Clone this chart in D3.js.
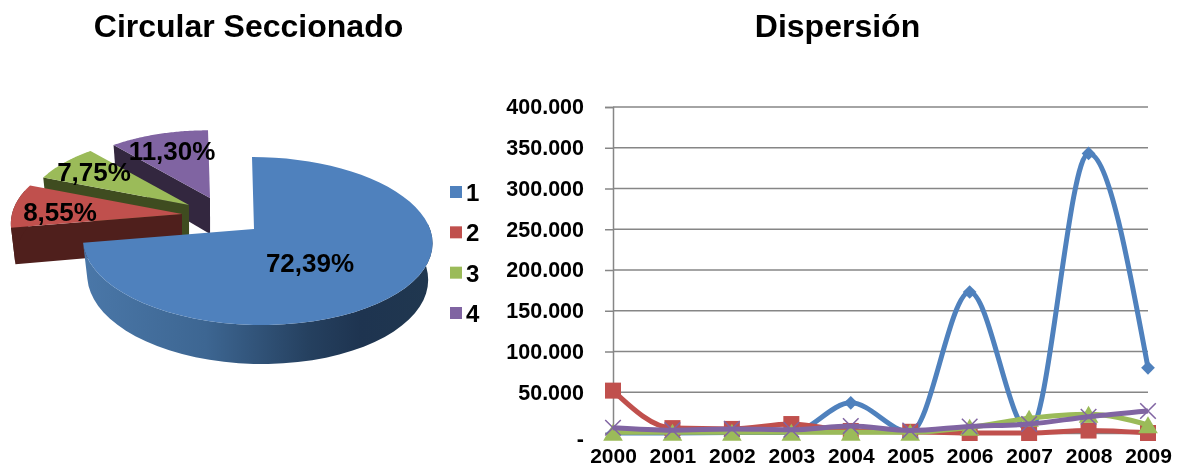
<!DOCTYPE html>
<html><head><meta charset="utf-8">
<script src="https://cdnjs.cloudflare.com/ajax/libs/d3/7.8.5/d3.min.js"></script>
<style>html,body{margin:0;background:#fff}svg{display:block;filter:blur(.45px)}text{font-family:"Liberation Sans",Arial,sans-serif;font-weight:700;fill:#000}</style>
</head><body><svg id="c" width="1184" height="468"></svg>
<script>
const pieLabels=["1","2","3","4"];
const pieValues=[72.39,8.55,7.75,11.30];
const pieText=["72,39%","8,55%","7,75%","11,30%"];
const years=["2000","2001","2002","2003","2004","2005","2006","2007","2008","2009"];
const serie1=[0,0,500,500,37000,1000,173000,2000,343000,80000];
const serie2=[52000,6000,5000,11000,2500,1500,0,0,3000,0];
const serie3=[1000,1000,1000,1000,1000,1000,7000,18000,23000,10000];
const serie4=[6500,3500,5000,4000,8500,3000,8000,11000,20000,27000];
const yTicks=[0,50000,100000,150000,200000,250000,300000,350000,400000];
const colors=["#4f81bd","#c0504d","#9bbb59","#8064a2"];
const dark=["#1f3550","#4f1f1c","#3f4c20","#33273f"];

const svg=d3.select("#c");
const title=(t,x)=>svg.append("text").attr("x",x).attr("y",37).attr("text-anchor","middle").attr("font-size",32).text(t);
title("Circular Seccionado",248.5);title("Dispersión",837.5);

// ---------- exploded 3D pie ----------
const P={x0:257,y0:229,a:82.3,b:173,k:1/7,c:-5,depth:36,shrink:.975};
const explode=[[0,0],[-72,-15],[-65,-24],[-44,-31]];
const sliceScale=[1,1,.96,.94];
const labelPos=[[310,263],[60,212],[94,172],[172,151]];
const proj=(t,o,s)=>{const u=Math.sin(t),v=Math.cos(t),w=1+P.k*v;
  return {x:P.x0+o[0]+s*P.b*u/w+P.c*v,y:P.y0+o[1]-s*P.a*v/w,v};};
const low=(p,o)=>({x:P.x0+o[0]+(p.x-P.x0-o[0])*P.shrink,y:p.y+P.depth-3*p.v});
const line=d3.line().x(d=>d.x).y(d=>d.y);
const arcs=d3.pie().sort(null).value(d=>d)(pieValues);
const defs=svg.append("defs");
const g=defs.append("linearGradient").attr("id","wall").attr("gradientUnits","userSpaceOnUse")
 .attr("x1",85).attr("x2",430).attr("y1",0).attr("y2",0);
[[0,"#4a77a8"],[.35,"#3d6692"],[.65,"#25405f"],[.8,"#1e3450"],[1,"#20374f"]].forEach(s=>g.append("stop").attr("offset",s[0]).attr("stop-color",s[1]));
const pieG=svg.append("g");
[3,2,1,0].forEach(i=>{
  const a=arcs[i],o=explode[i];
  const apex={x:P.x0-3+o[0],y:P.y0+o[1],v:0};
  const rim=d3.range(0,61).map(j=>proj(a.startAngle+(a.endAngle-a.startAngle)*j/60,o,sliceScale[i]));
  const fill=i===0?"url(#wall)":dark[i];
  if(i===0){
    const front=rim.filter(p=>p.v<0.1);
    pieG.append("path").attr("d",line(front.concat(front.slice().reverse().map(p=>low(p,o))))+"Z").attr("fill",fill);
  }else{
    const r0=rim[0];
    pieG.append("path").attr("d",line([apex,r0,low(r0,o),low(apex,o)])+"Z").attr("fill",fill);
    if(r0.v<.3){const f=rim.filter(p=>p.v<.3&&p.x<P.x0+o[0]);
      pieG.append("path").attr("d",line(f.concat(f.slice().reverse().map(p=>low(p,o))))+"Z").attr("fill",fill);}
  }
  pieG.append("path").attr("d",line([apex].concat(rim))+"Z").attr("fill",colors[i]);
});
pieText.forEach((t,i)=>svg.append("text").attr("x",labelPos[i][0]).attr("y",labelPos[i][1]+9)
  .attr("text-anchor","middle").attr("font-size",26).text(t));
// legend
const ly=d3.scalePoint().domain(pieLabels).range([192,313]);
pieLabels.forEach((l,i)=>{
  svg.append("rect").attr("x",450).attr("y",ly(l)-6).attr("width",12).attr("height",12).attr("fill",colors[i]);
  svg.append("text").attr("x",466).attr("y",ly(l)+9).attr("font-size",24).text(l);
});

// ---------- line chart ----------
const x=d3.scalePoint().domain(years).range([613,1148]);
const y=d3.scaleLinear().domain([0,400000]).range([433,107]);
const loc=d3.formatLocale({decimal:",",thousands:".",grouping:[3],currency:["",""]});
const fmt=loc.format(",.0f");
const axY=svg.append("g").attr("transform","translate(613,0)")
  .call(d3.axisLeft(y).tickValues(yTicks).tickSize(8).tickPadding(21).tickFormat(d=>d===0?"-":fmt(d)));
axY.select(".domain").attr("stroke","#868686").attr("stroke-width",1.5);
axY.selectAll("line").attr("stroke","#868686").attr("stroke-width",1.5);
axY.selectAll("text").attr("font-size",21.5).attr("fill","#000").style("font-family",'"Liberation Sans"').style("font-weight",700);
axY.selectAll(".tick").filter(d=>d===0).select("text").attr("dy","0.6em");
svg.append("g").selectAll("line").data(yTicks).join("line")
  .attr("x1",613).attr("x2",1148).attr("y1",d=>y(d)).attr("y2",d=>y(d)).attr("stroke","#868686").attr("stroke-width",1.5);
const axX=svg.append("g").attr("transform","translate(0,433)")
  .call(d3.axisBottom(x).tickSize(0).tickPadding(15.5));
axX.select(".domain").attr("stroke","#868686").attr("stroke-width",1.5);
axX.selectAll("text").attr("font-size",21).attr("fill","#000").style("font-family",'"Liberation Sans"').style("font-weight",700);

const curve=d3.line().x((d,i)=>x(years[i])).y(d=>y(d)).curve(d3.curveMonotoneX);
const sym=[d3.symbolDiamond2,d3.symbolSquare,d3.symbolTriangle,d3.symbolX];
const size=[120,256,167,160];
const triShift=Math.sqrt(size[2]*Math.sqrt(3))/6;
[serie1,serie2,serie3,serie4].forEach((s,k)=>{
  svg.append("path").attr("d",curve(s)).attr("fill","none").attr("stroke",colors[k]).attr("stroke-width",5);
  svg.append("g").selectAll("path").data(s).join("path")
    .attr("transform",(d,i)=>`translate(${x(years[i])},${y(d)+(k===2?triShift:0)})`)
    .attr("d",d3.symbol().type(sym[k]).size(size[k]))
    .attr("fill",k===3?"none":colors[k]).attr("stroke",k===3?colors[k]:"none").attr("stroke-width",1.5);
});
</script></body></html>
